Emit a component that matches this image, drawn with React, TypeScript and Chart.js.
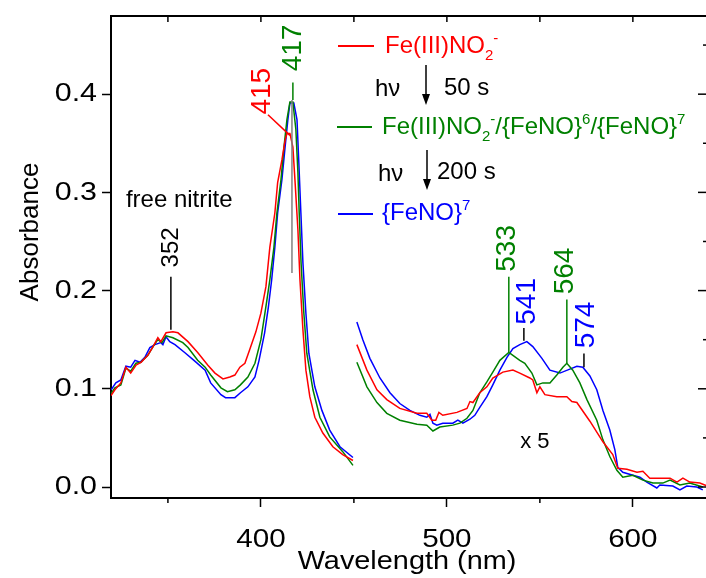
import React, { useEffect, useRef } from "react";
import { Chart, registerables } from "chart.js";

Chart.register(...registerables);

// ---------- axis ticks ----------
const xTickValues = [400, 500, 600];
const xMinorValues = [350, 450, 550];
const xTopTickValues = [350, 400, 450, 500, 550, 600];
const yTickValues = [0, 0.1, 0.2, 0.3, 0.4];
const yRightTickValues = [0, 0.05, 0.1, 0.15, 0.2, 0.25, 0.3, 0.35, 0.4, 0.45];

// ---------- Soret region (real absorbance) ----------
const redSoretWl = [319.4, 321.5, 324.7, 327.4, 330, 332.8, 335.5, 339.2, 342, 344.6, 346.2, 349, 352.7, 355.4, 360.8, 366, 371.5, 375.3, 379.6, 383.3, 386, 388.7, 391.4, 394, 397.3, 400, 402.7, 404.8, 407.5, 409, 411.3, 413, 414, 415.6, 417.2, 418.3, 419.9, 421, 422.6, 424.2, 426.3, 429, 433.3, 438.7, 444, 449.5];
const redSoretAbs = [0.093, 0.099, 0.106, 0.122, 0.116, 0.124, 0.127, 0.134, 0.143, 0.152, 0.148, 0.157, 0.158, 0.157, 0.148, 0.137, 0.124, 0.116, 0.11, 0.112, 0.114, 0.122, 0.126, 0.14, 0.158, 0.177, 0.204, 0.244, 0.279, 0.31, 0.333, 0.353, 0.36, 0.36, 0.346, 0.313, 0.262, 0.211, 0.16, 0.119, 0.092, 0.071, 0.055, 0.041, 0.033, 0.027];

const greenSoretWl = [319.4, 321.5, 324.7, 327.4, 330, 332.8, 335.5, 339.2, 342, 344.6, 346.8, 349, 352.7, 358, 360.8, 366, 370, 373, 378.5, 382, 386, 389, 393, 396.8, 400, 403.2, 404.8, 407, 408.6, 410.8, 412.4, 414, 415.6, 417.2, 418.8, 419.9, 420.6, 421.6, 423.1, 424.7, 428, 431.7, 437, 444, 449.5];
const greenSoretAbs = [0.095, 0.101, 0.104, 0.121, 0.118, 0.126, 0.127, 0.134, 0.143, 0.15, 0.147, 0.154, 0.152, 0.147, 0.142, 0.129, 0.122, 0.114, 0.101, 0.097, 0.099, 0.104, 0.112, 0.126, 0.15, 0.19, 0.211, 0.244, 0.279, 0.313, 0.346, 0.374, 0.392, 0.392, 0.364, 0.32, 0.279, 0.228, 0.177, 0.136, 0.099, 0.071, 0.051, 0.036, 0.022];

const blueSoretWl = [319.5, 322, 324.7, 327.4, 330, 332.3, 335, 337.6, 340.3, 343, 346.2, 347.3, 349, 351, 353.8, 359, 364, 370, 373, 378.5, 381, 386, 389, 393, 396.8, 399, 402, 404, 405.8, 407.5, 409, 411.3, 413, 414.5, 415.6, 417.7, 419.4, 420.4, 421.5, 422.6, 424.2, 425.8, 429, 432.8, 437, 442.5, 449.5];
const blueSoretAbs = [0.099, 0.106, 0.109, 0.123, 0.122, 0.129, 0.127, 0.132, 0.142, 0.145, 0.147, 0.145, 0.153, 0.148, 0.145, 0.137, 0.129, 0.119, 0.106, 0.094, 0.091, 0.091, 0.096, 0.102, 0.112, 0.129, 0.157, 0.183, 0.211, 0.244, 0.279, 0.313, 0.346, 0.374, 0.391, 0.391, 0.374, 0.33, 0.279, 0.228, 0.177, 0.136, 0.102, 0.078, 0.058, 0.041, 0.03];

// ---------- Q-band region (x 5) ----------
const redQWl = [451.6, 457, 462.4, 467.7, 474.7, 483.9, 489.2, 491.9, 494, 495.7, 497.8, 505.4, 510.8, 512.4, 514, 517.7, 521.5, 524.7, 530.1, 535.5, 539.2, 544.6, 546.2, 548.4, 550, 552.7, 559.1, 564.5, 567.2, 569.9, 576.9, 583.9, 589.2, 591.9, 596.8, 602.2, 605.4, 609.1, 614.5, 620, 623.7, 626.9, 630.6, 636, 640];
const redQAbs = [0.145, 0.119, 0.099, 0.089, 0.08, 0.075, 0.075, 0.068, 0.068, 0.076, 0.073, 0.076, 0.08, 0.087, 0.086, 0.096, 0.102, 0.111, 0.117, 0.119, 0.116, 0.111, 0.109, 0.096, 0.102, 0.094, 0.092, 0.092, 0.087, 0.086, 0.067, 0.046, 0.033, 0.019, 0.018, 0.015, 0.016, 0.009, 0.009, 0.009, 0.005, 0.009, 0.005, 0.004, 0.001];

const greenQWl = [451.6, 457, 462.4, 467.7, 474.7, 483.9, 489.2, 492.5, 496.2, 503.2, 507, 510.8, 514, 517.7, 521.5, 524.7, 528.5, 533.3, 535.5, 539.2, 541.9, 545.7, 548.4, 551.6, 555.4, 559.1, 562.4, 564.5, 567.7, 571.5, 575.3, 580.6, 583.9, 587.6, 591.4, 594.6, 600, 605.4, 610.8, 616.1, 620, 625.3, 630.6, 637.6];
const greenQAbs = [0.127, 0.102, 0.086, 0.075, 0.068, 0.064, 0.063, 0.057, 0.061, 0.063, 0.065, 0.07, 0.078, 0.096, 0.107, 0.117, 0.129, 0.137, 0.134, 0.129, 0.126, 0.116, 0.104, 0.106, 0.106, 0.114, 0.122, 0.126, 0.119, 0.106, 0.089, 0.068, 0.048, 0.031, 0.017, 0.01, 0.012, 0.007, 0.004, 0.004, 0.007, 0.002, 0.004, 0.0];

const blueQWl = [451.6, 454.8, 458.6, 464, 469.4, 474.7, 480.1, 485.5, 489.2, 490.9, 492.5, 494.6, 497.8, 503.2, 505.9, 508.6, 512.4, 515, 517.7, 521.5, 524.7, 528.5, 532.3, 535.5, 539.2, 543, 546.2, 551.1, 555.4, 560.8, 566.1, 569.9, 573.1, 576.9, 580.6, 583.9, 587.6, 590.3, 591.9, 594.6, 600, 603.8, 607.5, 612.9, 614.5, 621.5, 625.3, 629, 634.4, 637.6];
const blueQAbs = [0.168, 0.15, 0.131, 0.111, 0.096, 0.085, 0.078, 0.073, 0.071, 0.074, 0.065, 0.063, 0.065, 0.065, 0.068, 0.065, 0.069, 0.073, 0.081, 0.092, 0.104, 0.119, 0.132, 0.141, 0.145, 0.148, 0.143, 0.131, 0.119, 0.116, 0.12, 0.123, 0.122, 0.113, 0.099, 0.078, 0.058, 0.038, 0.02, 0.015, 0.012, 0.01, 0.005, -0.001, 0.002, 0.001, -0.003, 0.001, 0.0, -0.003];

const RED = "#ff0000";
const GREEN = "#008000";
const BLUE = "#0000ff";
const FONT = '"Liberation Sans", Arial, sans-serif';

type Part = { t: string; sub?: boolean; sup?: boolean };

function drawRich(ctx: CanvasRenderingContext2D, x: number, y: number, parts: Part[], color: string, size: number) {
  ctx.fillStyle = color;
  ctx.textAlign = "left";
  ctx.textBaseline = "alphabetic";
  let cx = x;
  for (const p of parts) {
    const s = p.sub || p.sup ? Math.round(size * 0.62) : size;
    ctx.font = `${s}px ${FONT}`;
    const dy = p.sub ? size * 0.28 : p.sup ? -size * 0.42 : 0;
    ctx.fillText(p.t, cx, y + dy);
    cx += ctx.measureText(p.t).width;
  }
}

function line(ctx: CanvasRenderingContext2D, x1: number, y1: number, x2: number, y2: number) {
  ctx.beginPath();
  ctx.moveTo(x1, y1);
  ctx.lineTo(x2, y2);
  ctx.stroke();
}

// text with a slight horizontal stretch (the original figure is wider than tall)
function wideText(ctx: CanvasRenderingContext2D, text: string, x: number, y: number, size: number, align: CanvasTextAlign, stretch: number) {
  ctx.save();
  ctx.translate(x, y);
  ctx.scale(stretch, 1);
  ctx.fillStyle = "#000";
  ctx.font = `${size}px ${FONT}`;
  ctx.textAlign = align;
  ctx.textBaseline = "middle";
  ctx.fillText(text, 0, 0);
  ctx.restore();
}

function rotText(ctx: CanvasRenderingContext2D, text: string, x: number, y: number, color: string, size: number) {
  ctx.save();
  ctx.translate(x, y);
  ctx.rotate(-Math.PI / 2);
  ctx.fillStyle = color;
  ctx.font = `${size}px ${FONT}`;
  ctx.textAlign = "center";
  ctx.textBaseline = "middle";
  ctx.fillText(text, 0, 0);
  ctx.restore();
}

function arrow(ctx: CanvasRenderingContext2D, x: number, y1: number, y2: number) {
  ctx.strokeStyle = "#000";
  ctx.lineWidth = 1.5;
  line(ctx, x, y1, x, y2 - 8);
  ctx.fillStyle = "#000";
  ctx.beginPath();
  ctx.moveTo(x - 4, y2 - 11);
  ctx.lineTo(x + 4, y2 - 11);
  ctx.lineTo(x, y2);
  ctx.closePath();
  ctx.fill();
}

const overlayPlugin = {
  id: "overlay",
  afterDraw(chart: any) {
    const ctx: CanvasRenderingContext2D = chart.ctx;
    const xs = chart.scales.x;
    const ys = chart.scales.y;
    const { left, right, top, bottom } = chart.chartArea;
    const px = (v: number) => xs.getPixelForValue(v);
    const py = (v: number) => ys.getPixelForValue(v);
    ctx.save();

    // frame
    ctx.strokeStyle = "#000";
    ctx.lineWidth = 2;
    line(ctx, left - 1, top, right, top);
    line(ctx, right, top, right, bottom);
    ctx.lineWidth = 1.5;
    for (const v of xTopTickValues) line(ctx, px(v), top, px(v), top + 6);
    for (const v of yRightTickValues) {
      const major = Math.abs(v * 10 - Math.round(v * 10)) < 1e-6;
      line(ctx, right, py(v), right - (major ? 10 : 5), py(v));
    }
    for (const v of xMinorValues) line(ctx, px(v), bottom, px(v), bottom + 5);

    // tick labels
    for (const v of yTickValues) wideText(ctx, v.toFixed(1), left - 14, py(v), 26, "right", 1.17);
    for (const v of xTickValues) wideText(ctx, String(v), px(v), 540, 26, "center", 1.14);

    // axis titles
    wideText(ctx, "Wavelength (nm)", 407, 562, 26, "center", 1.11);
    rotText(ctx, "Absorbance", 31, 232, "#000", 26);

    // gray marker line at the Soret maximum
    ctx.strokeStyle = "#808080";
    ctx.lineWidth = 1.5;
    line(ctx, px(416.7), py(0.394), px(416.7), py(0.218));

    // peak annotations
    const ann = [
      { text: "415", color: RED, lead: RED, size: 28, at: [400.5, 0.403], l1: [403.8, 0.379], l2: [415.6, 0.358] },
      { text: "417", color: GREEN, lead: GREEN, size: 28, at: [417.2, 0.447], l1: [417.2, 0.412], l2: [417.2, 0.394] },
      { text: "352", color: "#000", lead: "#000", size: 24, at: [351.6, 0.244], l1: [351.6, 0.214], l2: [351.6, 0.16] },
      { text: "533", color: GREEN, lead: GREEN, size: 28, at: [532.3, 0.243], l1: [533.3, 0.214], l2: [533.3, 0.137] },
      { text: "541", color: BLUE, lead: "#000", size: 28, at: [543.0, 0.189], l1: [541.4, 0.162], l2: [541.4, 0.149] },
      { text: "564", color: GREEN, lead: GREEN, size: 28, at: [563.4, 0.22], l1: [564.5, 0.191], l2: [564.5, 0.126] },
      { text: "574", color: BLUE, lead: "#000", size: 28, at: [574.7, 0.165], l1: [573.7, 0.136], l2: [573.7, 0.122] },
    ];
    for (const a of ann) {
      ctx.strokeStyle = a.lead;
      ctx.lineWidth = 1.5;
      line(ctx, px(a.l1[0]), py(a.l1[1]), px(a.l2[0]), py(a.l2[1]));
      rotText(ctx, a.text, px(a.at[0]), py(a.at[1]), a.color, a.size);
    }

    ctx.fillStyle = "#000";
    ctx.font = `24px ${FONT}`;
    ctx.textAlign = "left";
    ctx.textBaseline = "middle";
    ctx.fillText("free nitrite", px(327.4), py(0.292));
    ctx.font = `22px ${FONT}`;
    ctx.textAlign = "center";
    ctx.fillText("x 5", px(547.3), py(0.046));

    // legend
    ctx.lineWidth = 2;
    ctx.strokeStyle = RED;
    line(ctx, 338, 46, 374, 46);
    ctx.strokeStyle = GREEN;
    line(ctx, 337, 127, 372, 127);
    ctx.strokeStyle = BLUE;
    line(ctx, 338, 214, 373, 214);

    drawRich(ctx, 385, 53, [{ t: "Fe(III)NO" }, { t: "2", sub: true }, { t: "-", sup: true }], RED, 24);
    drawRich(ctx, 382, 134, [{ t: "Fe(III)NO" }, { t: "2", sub: true }, { t: "-", sup: true }, { t: "/{FeNO}" }, { t: "6", sup: true }, { t: "/{FeNO}" }, { t: "7", sup: true }], GREEN, 24);
    drawRich(ctx, 382, 220, [{ t: "{FeNO}" }, { t: "7", sup: true }], BLUE, 24);

    drawRich(ctx, 375, 96, [{ t: "h\u03bd" }], "#000", 24);
    drawRich(ctx, 444, 95, [{ t: "50 s" }], "#000", 24);
    arrow(ctx, 426, 65, 105);
    drawRich(ctx, 378, 181, [{ t: "h\u03bd" }], "#000", 24);
    drawRich(ctx, 437, 179, [{ t: "200 s" }], "#000", 24);
    arrow(ctx, 427, 150, 190);

    ctx.restore();
  },
};

function pts(wl: number[], ab: number[]) {
  return wl.map((x, i) => ({ x, y: ab[i] }));
}

export default function App() {
  const ref = useRef<HTMLCanvasElement | null>(null);
  useEffect(() => {
    if (!ref.current) return;
    const ds = (data: any[], color: string) => ({
      data,
      borderColor: color,
      backgroundColor: color,
      borderWidth: 1.5,
      pointRadius: 0,
      tension: 0,
      fill: false,
    });
    const chart = new Chart(ref.current, {
      type: "line",
      data: {
        datasets: [
          ds(pts(redSoretWl, redSoretAbs), RED),
          ds(pts(greenSoretWl, greenSoretAbs), GREEN),
          ds(pts(blueSoretWl, blueSoretAbs), BLUE),
          ds(pts(redQWl, redQAbs), RED),
          ds(pts(greenQWl, greenQAbs), GREEN),
          ds(pts(blueQWl, blueQAbs), BLUE),
        ],
      },
      options: {
        animation: false,
        responsive: false,
        devicePixelRatio: 1,
        layout: { padding: { top: 16, right: 0, left: 0, bottom: 0 } },
        plugins: { legend: { display: false }, tooltip: { enabled: false } },
        scales: {
          x: {
            type: "linear",
            min: 319.4,
            max: 640.4,
            afterBuildTicks: (s: any) => {
              s.ticks = xTickValues.map((v) => ({ value: v }));
            },
            afterFit: (s: any) => {
              s.height = 80;
            },
            ticks: { display: false },
            grid: { drawOnChartArea: false, drawTicks: true, tickLength: 9, tickWidth: 1.5, tickColor: "#000" },
            border: { display: true, color: "#000", width: 2 },
          },
          y: {
            type: "linear",
            min: -0.0112,
            max: 0.4796,
            afterBuildTicks: (s: any) => {
              s.ticks = yTickValues.map((v) => ({ value: v }));
            },
            afterFit: (s: any) => {
              s.width = 111;
            },
            ticks: { display: false },
            grid: { drawOnChartArea: false, drawTicks: true, tickLength: 9, tickWidth: 1.5, tickColor: "#000" },
            border: { display: true, color: "#000", width: 2 },
          },
        },
      },
      plugins: [overlayPlugin],
    } as any);
    return () => chart.destroy();
  }, []);
  return (
    <div style={{ position: "fixed", left: 0, top: 0, width: 706, height: 578, overflow: "hidden", background: "#fff" }}>
      <canvas ref={ref} width={708} height={578} style={{ display: "block", width: 708, height: 578 }} />
    </div>
  );
}
